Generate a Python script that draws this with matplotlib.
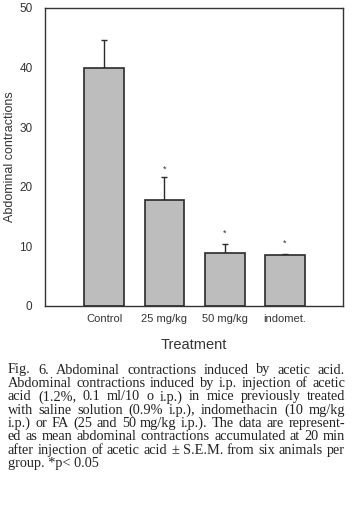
import matplotlib
matplotlib.use("Agg")
import matplotlib.pyplot as plt
import numpy as np

# Data
groups = ["Control", "25 mg/kg", "50 mg/kg", "indomet."]
means = [40.0, 17.8, 8.9, 8.5]
sem = [4.7, 3.8, 1.5, 0.2]
star_y = [None, 23.0, 12.2, 10.5]

caption_lines = [
    "Fig. 6. Abdominal contractions induced by acetic acid.",
    "Abdominal contractions induced by i.p. injection of acetic",
    "acid (1.2%, 0.1 ml/10 o i.p.) in mice previously treated",
    "with saline solution (0.9% i.p.), indomethacin (10 mg/kg",
    "i.p.) or FA (25 and 50 mg/kg i.p.). The data are represent-",
    "ed as mean abdominal contractions accumulated at 20 min",
    "after injection of acetic acid \u00b1 S.E.M. from six animals per",
    "group. *p< 0.05",
]

W, H = 356, 521
fig = plt.figure(figsize=(W / 100, H / 100), dpi=100)
ax = fig.add_axes([45 / W, 1 - 306 / H, 298 / W, 298 / H])

sans = "Liberation Sans"
serif = "Liberation Serif"

x = np.arange(len(groups))
ax.bar(x, means, width=0.66, color="#bdbdbd", edgecolor="#2a2a2a", linewidth=1.2, zorder=2)
ax.errorbar(x, means, yerr=[np.zeros(len(sem)), sem], fmt="none",
            ecolor="#2a2a2a", elinewidth=1.0, capsize=2, capthick=1.0, zorder=1)
for xi, sy in zip(x, star_y):
    if sy is not None:
        ax.text(xi, sy, "*", ha="center", va="center", fontsize=6.5, family=sans, color="#333333")

ax.set_xlim(-0.98, 3.96)
ax.set_ylim(0, 50)
ax.set_yticks([0, 10, 20, 30, 40, 50])
ax.set_xticks(x)
ax.set_xticklabels(groups, fontsize=8, family=sans)
for lab in ax.get_yticklabels():
    lab.set_fontsize(8.5)
    lab.set_family(sans)
ax.tick_params(axis="both", length=0, colors="#333333")
ax.tick_params(axis="y", pad=9)
ax.tick_params(axis="x", pad=6)
for s in ax.spines.values():
    s.set_linewidth(1.0)
    s.set_color("#333333")

ax.set_ylabel("Abdominal contractions", fontsize=9, family=sans, color="#333333", labelpad=2)
fig.text(194 / W, 1 - 345 / H, "Treatment", ha="center", va="center",
         fontsize=10.5, family=sans, color="#333333")

# justified caption
x0, x1 = 8, 345
fs = 10.3
fig.canvas.draw()
renderer = fig.canvas.get_renderer()
for i, line in enumerate(caption_lines):
    yline = 1 - (370 + i * 13.4) / H
    words = line.split(" ")
    if i == len(caption_lines) - 1:
        fig.text(x0 / W, yline, line, ha="left", va="center", fontsize=fs,
                 family=serif, color="#222222")
        continue
    texts = [fig.text(0, yline, w, ha="left", va="center", fontsize=fs,
                      family=serif, color="#222222") for w in words]
    widths = [t.get_window_extent(renderer).width for t in texts]
    gap = (x1 - x0 - sum(widths)) / (len(words) - 1)
    pos = x0
    for t, w in zip(texts, widths):
        t.set_x(pos / W)
        pos += w + gap

fig.savefig("out.png", dpi=100)
